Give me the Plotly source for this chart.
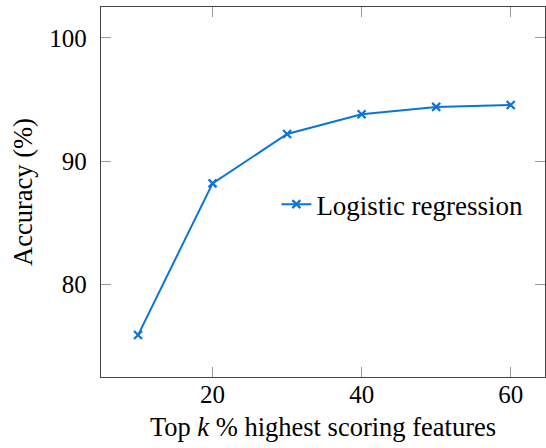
import plotly.graph_objects as go

k_percent = [10, 20, 30, 40, 50, 60]
accuracy = [75.9, 88.2, 92.2, 93.8, 94.4, 94.55]
series_name = "Logistic regression"
x_ticks = [20, 40, 60]
y_ticks = [80, 90, 100]

blue = "#0a74da"
family = "Liberation Serif, Times New Roman, serif"
font = dict(family=family, size=25, color="black")
title_font = dict(family=family, size=26.5, color="black")

fig = go.Figure()
fig.add_trace(go.Scatter(
    x=k_percent, y=accuracy, mode="lines+markers", name=series_name,
    line=dict(color=blue, width=2),
    marker=dict(symbol="x-thin", size=8, color=blue, line=dict(color=blue, width=2.2)),
))

axis_common = dict(
    showline=True, linecolor="#444", linewidth=1.3, mirror="ticks",
    ticks="inside", ticklen=10, tickcolor="#999", tickwidth=1.3,
    showgrid=False, zeroline=False, tickfont=font,
)
fig.update_xaxes(range=[5.03, 64.6], tickvals=x_ticks,
                 title=dict(text="Top <i>k</i> % highest scoring features", font=title_font, standoff=10),
                 ticklabelstandoff=-5, **axis_common)
fig.update_yaxes(range=[72.5, 102.5], tickvals=y_ticks,
                 title=dict(text="Accuracy (%)", font=title_font, standoff=9),
                 ticklabelstandoff=8, **axis_common)

fig.update_layout(
    width=546, height=448,
    margin=dict(l=101, r=1, t=7, b=71),
    paper_bgcolor="white", plot_bgcolor="white",
    font=font,
    showlegend=True,
    legend=dict(x=0.395, y=0.466, xanchor="left", yanchor="middle",
                bgcolor="rgba(0,0,0,0)", borderwidth=0,
                font=dict(family=family, size=27, color="black")),
)

fig.write_html("out.html", config={"displayModeBar": False},
               post_script="document.body.style.margin='0';")
